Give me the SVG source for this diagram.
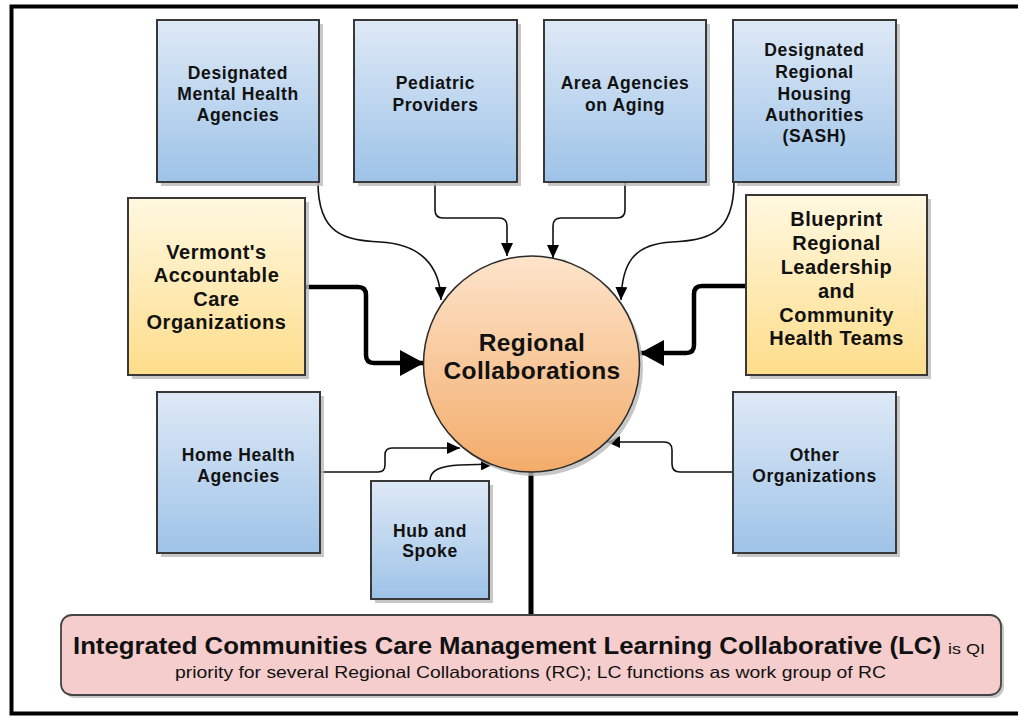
<svg xmlns="http://www.w3.org/2000/svg" width="1018" height="719" viewBox="0 0 1018 719">
<defs>
<linearGradient id="gBlue" x1="0" y1="0" x2="0" y2="1"><stop offset="0" stop-color="#dee9f6"/><stop offset="1" stop-color="#9ec3e8"/></linearGradient>
<linearGradient id="gYellow" x1="0" y1="0" x2="0" y2="1"><stop offset="0" stop-color="#fff8e0"/><stop offset="1" stop-color="#fedd8b"/></linearGradient>
<linearGradient id="gOrange" x1="0" y1="0" x2="0" y2="1"><stop offset="0" stop-color="#fde4cb"/><stop offset="1" stop-color="#f3ac6a"/></linearGradient>
<marker id="aThin" viewBox="0 0 13 12" refX="13" refY="6" markerWidth="13" markerHeight="12" markerUnits="userSpaceOnUse" orient="auto"><path d="M0,0 L13,6 L0,12 z" fill="#000"/></marker>
<marker id="aThick" viewBox="0 0 24 26" refX="24" refY="13" markerWidth="24" markerHeight="26" markerUnits="userSpaceOnUse" orient="auto"><path d="M0,0 L24,13 L0,26 z" fill="#000"/></marker>
</defs>
<style>
.shadow{fill:#b9b9b9;opacity:0.8}
.blue{fill:url(#gBlue);stroke:#383838;stroke-width:2}
.yellow{fill:url(#gYellow);stroke:#383838;stroke-width:2}
.circ{fill:url(#gOrange);stroke:#2a2a2a;stroke-width:1.5}
.t{font-family:"Liberation Sans",Arial,sans-serif;font-weight:bold;fill:#111;text-anchor:middle}
.tb{font-size:17.5px;letter-spacing:0.6px}
.ty{font-size:20px;letter-spacing:0.5px}
.tc{font-size:24.5px;letter-spacing:0.4px}
.thin{fill:none;stroke:#111;stroke-width:1.6;marker-end:url(#aThin)}
.thick{fill:none;stroke:#000;stroke-width:4.5;marker-end:url(#aThick)}
.lc{font-family:"Liberation Sans",Arial,sans-serif;fill:#111}
</style>
<rect width="1018" height="719" fill="#fff"/>
<path d="M1018,6.5 H11.5 V713.5 H1018" fill="none" stroke="#000" stroke-width="4"/>

<g id="connectors">
<path class="thin" d="M318,182 C318,235 345,240 380,242 C420,244 440,265 441,300"/>
<path class="thin" d="M435,182 V210 Q435,218 443,218 H499 Q507,218 507,226 V256"/>
<path class="thin" d="M625,182 V210 Q625,218 617,218 H561 Q553,218 553,226 V258"/>
<path class="thin" d="M734,182 C734,235 707,240 672,242 C632,244 622,265 621,300"/>
<path class="thick" d="M305,287 H358 Q366,287 366,295 V355 Q366,363 374,363 H424"/>
<path class="thick" d="M746,286 H702 Q694,286 694,294 V345 Q694,353 686,353 H640"/>
<path class="thin" d="M320,472 H378 Q385,472 385,465 V455 Q385,448 392,448 H460"/>
<path class="thin" d="M430,481 C430,470 440,466 460,465 L494,464"/>
<path class="thin" d="M733,472 H680 Q672,472 672,464 V450 Q672,442 664,442 H607"/>
<path d="M531,472 V615" fill="none" stroke="#000" stroke-width="5"/>
</g>

<g id="n-regional">
<circle class="shadow" cx="535" cy="368" r="108"/>
<circle class="circ" cx="531.5" cy="364" r="108"/>
<text class="t tc" x="532" y="351">Regional</text>
<text class="t tc" x="532" y="379">Collaborations</text>
</g>

<g id="n-mental">
<rect class="shadow" x="161" y="24" width="162" height="162"/>
<rect class="blue" x="157" y="20" width="162" height="162"/>
<text class="t tb" x="238" y="79">Designated</text>
<text class="t tb" x="238" y="100">Mental Health</text>
<text class="t tb" x="238" y="121">Agencies</text>
</g>

<g id="n-pediatric">
<rect class="shadow" x="358" y="24" width="163" height="162"/>
<rect class="blue" x="354" y="20" width="163" height="162"/>
<text class="t tb" x="435.5" y="89">Pediatric</text>
<text class="t tb" x="435.5" y="110.5">Providers</text>
</g>

<g id="n-aging">
<rect class="shadow" x="548" y="24" width="162" height="162"/>
<rect class="blue" x="544" y="20" width="162" height="162"/>
<text class="t tb" x="625" y="89">Area Agencies</text>
<text class="t tb" x="625" y="110.5">on Aging</text>
</g>

<g id="n-housing">
<rect class="shadow" x="737" y="24" width="163" height="162"/>
<rect class="blue" x="733" y="20" width="163" height="162"/>
<text class="t tb" x="814.5" y="55.5">Designated</text>
<text class="t tb" x="814.5" y="77.5">Regional</text>
<text class="t tb" x="814.5" y="99.5">Housing</text>
<text class="t tb" x="814.5" y="121">Authorities</text>
<text class="t tb" x="814.5" y="142">(SASH)</text>
</g>

<g id="n-aco">
<rect class="shadow" x="132" y="202" width="177" height="177"/>
<rect class="yellow" x="128" y="198" width="177" height="177"/>
<text class="t ty" x="216.5" y="258.5">Vermont's</text>
<text class="t ty" x="216.5" y="282">Accountable</text>
<text class="t ty" x="216.5" y="305.5">Care</text>
<text class="t ty" x="216.5" y="329">Organizations</text>
</g>

<g id="n-blueprint">
<rect class="shadow" x="750" y="199" width="181" height="180"/>
<rect class="yellow" x="746" y="195" width="181" height="180"/>
<text class="t ty" x="836.5" y="226">Blueprint</text>
<text class="t ty" x="836.5" y="250">Regional</text>
<text class="t ty" x="836.5" y="273.5">Leadership</text>
<text class="t ty" x="836.5" y="297.5">and</text>
<text class="t ty" x="836.5" y="321.5">Community</text>
<text class="t ty" x="836.5" y="345">Health Teams</text>
</g>

<g id="n-home">
<rect class="shadow" x="161" y="396" width="163" height="161"/>
<rect class="blue" x="157" y="392" width="163" height="161"/>
<text class="t tb" x="238.5" y="461">Home Health</text>
<text class="t tb" x="238.5" y="481.5">Agencies</text>
</g>

<g id="n-hub">
<rect class="shadow" x="375" y="485" width="118" height="118"/>
<rect class="blue" x="371" y="481" width="118" height="118"/>
<text class="t tb" x="430" y="536.5">Hub and</text>
<text class="t tb" x="430" y="557">Spoke</text>
</g>

<g id="n-other">
<rect class="shadow" x="737" y="396" width="163" height="161"/>
<rect class="blue" x="733" y="392" width="163" height="161"/>
<text class="t tb" x="814.5" y="461">Other</text>
<text class="t tb" x="814.5" y="481.5">Organizations</text>
</g>

<g id="n-lc">
<rect x="64" y="618" width="940" height="80" rx="11" fill="#b9b9b9" opacity="0.8"/>
<rect x="61" y="615" width="940" height="80" rx="11" fill="#f5cdcd" stroke="#444" stroke-width="1.8"/>
<text class="lc" x="73" y="654" font-weight="bold" font-size="24" textLength="868" lengthAdjust="spacingAndGlyphs">Integrated Communities Care Management Learning Collaborative (LC)</text>
<text class="lc" x="948" y="654" font-size="15.5" textLength="37" lengthAdjust="spacingAndGlyphs">is QI</text>
<text class="lc" x="175" y="678" font-size="16.5" textLength="711" lengthAdjust="spacingAndGlyphs">priority for several Regional Collaborations (RC); LC functions as work group of RC</text>
</g>
</svg>
